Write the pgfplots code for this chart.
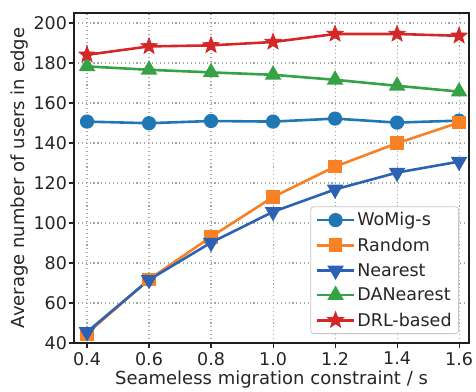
\documentclass[border=0pt]{standalone}
\usepackage{fontspec}
\setmainfont{DejaVu Sans}
\usepackage{pgfplots}
\pgfplotsset{compat=1.18}
\definecolor{cblue}{HTML}{1F77B4}
\definecolor{corange}{HTML}{F88125}
\definecolor{cnavy}{HTML}{2C62B4}
\definecolor{cgreen}{HTML}{35A246}
\definecolor{cred}{HTML}{D62728}
\definecolor{txt}{HTML}{262626}
\pgfdeclareplotmark{fstar}{%
  \pgfpathmoveto{\pgfpointpolar{90}{\pgfplotmarksize}}%
  \pgfpathlineto{\pgfpointpolar{126}{0.42\pgfplotmarksize}}%
  \pgfpathlineto{\pgfpointpolar{162}{\pgfplotmarksize}}%
  \pgfpathlineto{\pgfpointpolar{198}{0.42\pgfplotmarksize}}%
  \pgfpathlineto{\pgfpointpolar{234}{\pgfplotmarksize}}%
  \pgfpathlineto{\pgfpointpolar{270}{0.42\pgfplotmarksize}}%
  \pgfpathlineto{\pgfpointpolar{306}{\pgfplotmarksize}}%
  \pgfpathlineto{\pgfpointpolar{342}{0.42\pgfplotmarksize}}%
  \pgfpathlineto{\pgfpointpolar{18}{\pgfplotmarksize}}%
  \pgfpathlineto{\pgfpointpolar{54}{0.42\pgfplotmarksize}}%
  \pgfpathclose\pgfusepathqfillstroke}
\begin{document}
\begin{tikzpicture}
\begin{axis}[
  scale only axis, width=395pt, height=330pt,
  xmin=0.358, xmax=1.632, ymin=40, ymax=205,
  xtick={0.4,0.6,0.8,1.0,1.2,1.4,1.6},
  xticklabels={0.4,0.6,0.8,1.0,1.2,1.4,1.6},
  ytick={40,60,80,100,120,140,160,180,200},
  tick align=outside, major tick length=4.5pt,
  tick style={line width=1.1pt, black!85},
  xtick pos=bottom, ytick pos=left,
  grid=major,
  grid style={black!35, line width=1.1pt, dash pattern=on 1.1pt off 2.8pt},
  axis line style={line width=2.6pt, black!88},
  font=\fontsize{18}{21}\selectfont,
  tick label style={text=txt, font=\fontsize{17.5}{20}\selectfont},
  /pgf/number format/assume math mode=true,
  yticklabel style={xshift=1pt},
  xticklabel style={yshift=-1pt},
  xlabel={Seameless migration constraint / s},
  ylabel={Average number of users in edge},
  label style={text=txt},
  xlabel style={yshift=1pt},
  ylabel style={yshift=-2pt},
  legend cell align=left,
  legend image code/.code={\draw[mark repeat=2,mark phase=2] plot coordinates {(0pt,0pt) (18.5pt,0pt) (37pt,0pt)};},
  legend style={at={(1,0)}, anchor=south east, xshift=-10pt, yshift=9pt,
    draw=black!22, line width=0.8pt, rounded corners=3pt, fill=white,
    text=txt, font=\fontsize{17.5}{20}\selectfont, row sep=6.5pt,
    inner xsep=5pt, inner ysep=4pt},
  every axis plot/.append style={line width=2.6pt},
]
\addplot[cblue, mark=*, mark size=5.8pt, mark options={solid}] coordinates {
(0.4,150.7) (0.6,149.9) (0.8,151.0) (1.0,150.7) (1.2,152.2) (1.4,150.2) (1.6,151.2)};
\addlegendentry{WoMig-s}
\addplot[corange, mark=square*, mark size=5.6pt, mark options={solid}] coordinates {
(0.4,44.7) (0.6,71.8) (0.8,93.1) (1.0,113.0) (1.2,128.2) (1.4,139.9) (1.6,150.2)};
\addlegendentry{Random}
\addplot[cnavy, mark=triangle*, mark size=7pt, mark options={solid, rotate=180}] coordinates {
(0.4,45.5) (0.6,71.6) (0.8,90.2) (1.0,105.6) (1.2,116.8) (1.4,125.2) (1.6,130.7)};
\addlegendentry{Nearest}
\addplot[cgreen, mark=triangle*, mark size=7pt, mark options={solid}] coordinates {
(0.4,178.3) (0.6,176.6) (0.8,175.3) (1.0,174.1) (1.2,171.6) (1.4,168.6) (1.6,165.7)};
\addlegendentry{DANearest}
\addplot[cred, mark=fstar, mark size=8.5pt, mark options={solid, line width=0.8pt}] coordinates {
(0.4,184.1) (0.6,188.3) (0.8,188.8) (1.0,190.5) (1.2,194.5) (1.4,194.5) (1.6,193.6)};
\addlegendentry{DRL-based}
\end{axis}
\pgfresetboundingbox
\path[use as bounding box] ([xshift=-74pt,yshift=-48pt]current axis.south west) rectangle ([xshift=7pt,yshift=13pt]current axis.north east);
\end{tikzpicture}
\end{document}
